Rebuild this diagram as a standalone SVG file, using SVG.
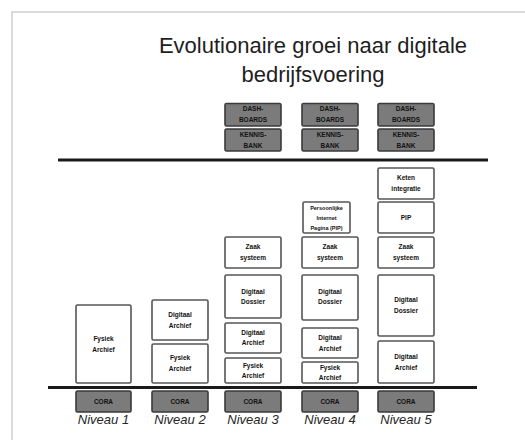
<svg xmlns="http://www.w3.org/2000/svg" width="525" height="440" viewBox="0 0 525 440">
  <style>
    .frame { fill: none; stroke: #d0d0d0; stroke-width: 1.5; }
    .title { font-family: "Liberation Sans", Arial, sans-serif; font-size: 22px; fill: #1e1e1e; text-anchor: middle; }
    .box { fill: #ffffff; stroke: #555555; stroke-width: 1.6; }
    .dark { fill: #7b7b7b; stroke: #3a3a3a; stroke-width: 1.6; }
    .lbl { font-family: "Liberation Sans", Arial, sans-serif; font-size: 6.5px; font-weight: bold; fill: #111111; text-anchor: middle; }
    .lbl-s { font-size: 5.5px; }
    .niv { font-family: "Liberation Sans", Arial, sans-serif; font-size: 13px; font-style: italic; fill: #262626; text-anchor: middle; }
    .rule { stroke: #1a1a1a; stroke-width: 3; }
  </style>

  <rect x="0" y="0" width="525" height="440" fill="#ffffff"/>
  <!-- slide frame -->
  <path class="frame" d="M12 440 V12 H525"/>

  <!-- title -->
  <text class="title" x="313" y="53">Evolutionaire groei naar digitale</text>
  <text class="title" x="313" y="82">bedrijfsvoering</text>

  <!-- horizontal rules -->
  <g id="connectors">
    <line class="rule" x1="58" y1="160" x2="488" y2="160"/>
    <line class="rule" x1="48" y1="387.5" x2="477" y2="387.5"/>
  </g>

  <!-- Niveau 1 -->
  <g id="niveau1">
    <g id="n1-fysiek"><rect class="box" x="76" y="305" width="55" height="78" rx="1.5"/>
      <text class="lbl" x="103.5" y="340.5">Fysiek</text><text class="lbl" x="103.5" y="352">Archief</text></g>
    <g id="n1-cora"><rect class="dark" x="76" y="391" width="55" height="21" rx="1.5"/>
      <text class="lbl" x="103.5" y="404">CORA</text></g>
    <text class="niv" x="103.5" y="424">Niveau 1</text>
  </g>

  <!-- Niveau 2 -->
  <g id="niveau2">
    <g id="n2-digarchief"><rect class="box" x="152" y="300" width="56" height="40" rx="1.5"/>
      <text class="lbl" x="180" y="316.5">Digitaal</text><text class="lbl" x="180" y="327.5">Archief</text></g>
    <g id="n2-fysiek"><rect class="box" x="152" y="344" width="56" height="39" rx="1.5"/>
      <text class="lbl" x="180" y="360">Fysiek</text><text class="lbl" x="180" y="371">Archief</text></g>
    <g id="n2-cora"><rect class="dark" x="152" y="391" width="56" height="21" rx="1.5"/>
      <text class="lbl" x="180" y="404">CORA</text></g>
    <text class="niv" x="180" y="424">Niveau 2</text>
  </g>

  <!-- Niveau 3 -->
  <g id="niveau3">
    <g id="n3-dash"><rect class="dark" x="225" y="103.5" width="56" height="22.5" rx="1.5"/>
      <text class="lbl" x="253" y="111">DASH-</text><text class="lbl" x="253" y="122">BOARDS</text></g>
    <g id="n3-kennis"><rect class="dark" x="225" y="129" width="56" height="22" rx="1.5"/>
      <text class="lbl" x="253" y="136.5">KENNIS-</text><text class="lbl" x="253" y="147.5">BANK</text></g>
    <g id="n3-zaak"><rect class="box" x="225" y="237" width="56" height="31" rx="1.5"/>
      <text class="lbl" x="253" y="249">Zaak</text><text class="lbl" x="253" y="259.5">systeem</text></g>
    <g id="n3-dossier"><rect class="box" x="225" y="275" width="56" height="43" rx="1.5"/>
      <text class="lbl" x="253" y="294">Digitaal</text><text class="lbl" x="253" y="304">Dossier</text></g>
    <g id="n3-digarchief"><rect class="box" x="225" y="323" width="56" height="30" rx="1.5"/>
      <text class="lbl" x="253" y="335">Digitaal</text><text class="lbl" x="253" y="345">Archief</text></g>
    <g id="n3-fysiek"><rect class="box" x="225" y="358" width="56" height="25" rx="1.5"/>
      <text class="lbl" x="253" y="367.5">Fysiek</text><text class="lbl" x="253" y="378">Archief</text></g>
    <g id="n3-cora"><rect class="dark" x="225" y="391" width="56" height="21" rx="1.5"/>
      <text class="lbl" x="253" y="404">CORA</text></g>
    <text class="niv" x="253" y="424">Niveau 3</text>
  </g>

  <!-- Niveau 4 -->
  <g id="niveau4">
    <g id="n4-dash"><rect class="dark" x="302" y="103.5" width="56" height="22.5" rx="1.5"/>
      <text class="lbl" x="330" y="111">DASH-</text><text class="lbl" x="330" y="122">BOARDS</text></g>
    <g id="n4-kennis"><rect class="dark" x="302" y="129" width="56" height="22" rx="1.5"/>
      <text class="lbl" x="330" y="136.5">KENNIS-</text><text class="lbl" x="330" y="147.5">BANK</text></g>
    <g id="n4-pip"><rect class="box" x="303" y="202" width="47" height="31" rx="1.5"/>
      <text class="lbl lbl-s" x="326.5" y="209.5">Persoonlijke</text><text class="lbl lbl-s" x="326.5" y="219.5">Internet</text><text class="lbl lbl-s" x="326.5" y="229.5">Pagina (PIP)</text></g>
    <g id="n4-zaak"><rect class="box" x="302" y="237" width="56" height="31" rx="1.5"/>
      <text class="lbl" x="330" y="249">Zaak</text><text class="lbl" x="330" y="259.5">systeem</text></g>
    <g id="n4-dossier"><rect class="box" x="302" y="275" width="56" height="45" rx="1.5"/>
      <text class="lbl" x="330" y="294">Digitaal</text><text class="lbl" x="330" y="304">Dossier</text></g>
    <g id="n4-digarchief"><rect class="box" x="302" y="328" width="56" height="30" rx="1.5"/>
      <text class="lbl" x="330" y="340">Digitaal</text><text class="lbl" x="330" y="350.5">Archief</text></g>
    <g id="n4-fysiek"><rect class="box" x="302" y="362" width="56" height="21" rx="1.5"/>
      <text class="lbl" x="330" y="369.5">Fysiek</text><text class="lbl" x="330" y="379.5">Archief</text></g>
    <g id="n4-cora"><rect class="dark" x="302" y="391" width="56" height="21" rx="1.5"/>
      <text class="lbl" x="330" y="404">CORA</text></g>
    <text class="niv" x="330" y="424">Niveau 4</text>
  </g>

  <!-- Niveau 5 -->
  <g id="niveau5">
    <g id="n5-dash"><rect class="dark" x="378" y="103.5" width="56" height="22.5" rx="1.5"/>
      <text class="lbl" x="406" y="111">DASH-</text><text class="lbl" x="406" y="122">BOARDS</text></g>
    <g id="n5-kennis"><rect class="dark" x="378" y="129" width="56" height="22" rx="1.5"/>
      <text class="lbl" x="406" y="136.5">KENNIS-</text><text class="lbl" x="406" y="147.5">BANK</text></g>
    <g id="n5-keten"><rect class="box" x="378" y="168" width="56" height="31" rx="1.5"/>
      <text class="lbl" x="406" y="180">Keten</text><text class="lbl" x="406" y="190.5">integratie</text></g>
    <g id="n5-pip"><rect class="box" x="378" y="202" width="56" height="31" rx="1.5"/>
      <text class="lbl" x="406" y="220">PIP</text></g>
    <g id="n5-zaak"><rect class="box" x="378" y="237" width="56" height="31" rx="1.5"/>
      <text class="lbl" x="406" y="249">Zaak</text><text class="lbl" x="406" y="259.5">systeem</text></g>
    <g id="n5-dossier"><rect class="box" x="378" y="275" width="56" height="61" rx="1.5"/>
      <text class="lbl" x="406" y="302">Digitaal</text><text class="lbl" x="406" y="312.5">Dossier</text></g>
    <g id="n5-digarchief"><rect class="box" x="378" y="341" width="56" height="42" rx="1.5"/>
      <text class="lbl" x="406" y="359">Digitaal</text><text class="lbl" x="406" y="369.5">Archief</text></g>
    <g id="n5-cora"><rect class="dark" x="378" y="391" width="56" height="21" rx="1.5"/>
      <text class="lbl" x="406" y="404">CORA</text></g>
    <text class="niv" x="406" y="424">Niveau 5</text>
  </g>
</svg>
